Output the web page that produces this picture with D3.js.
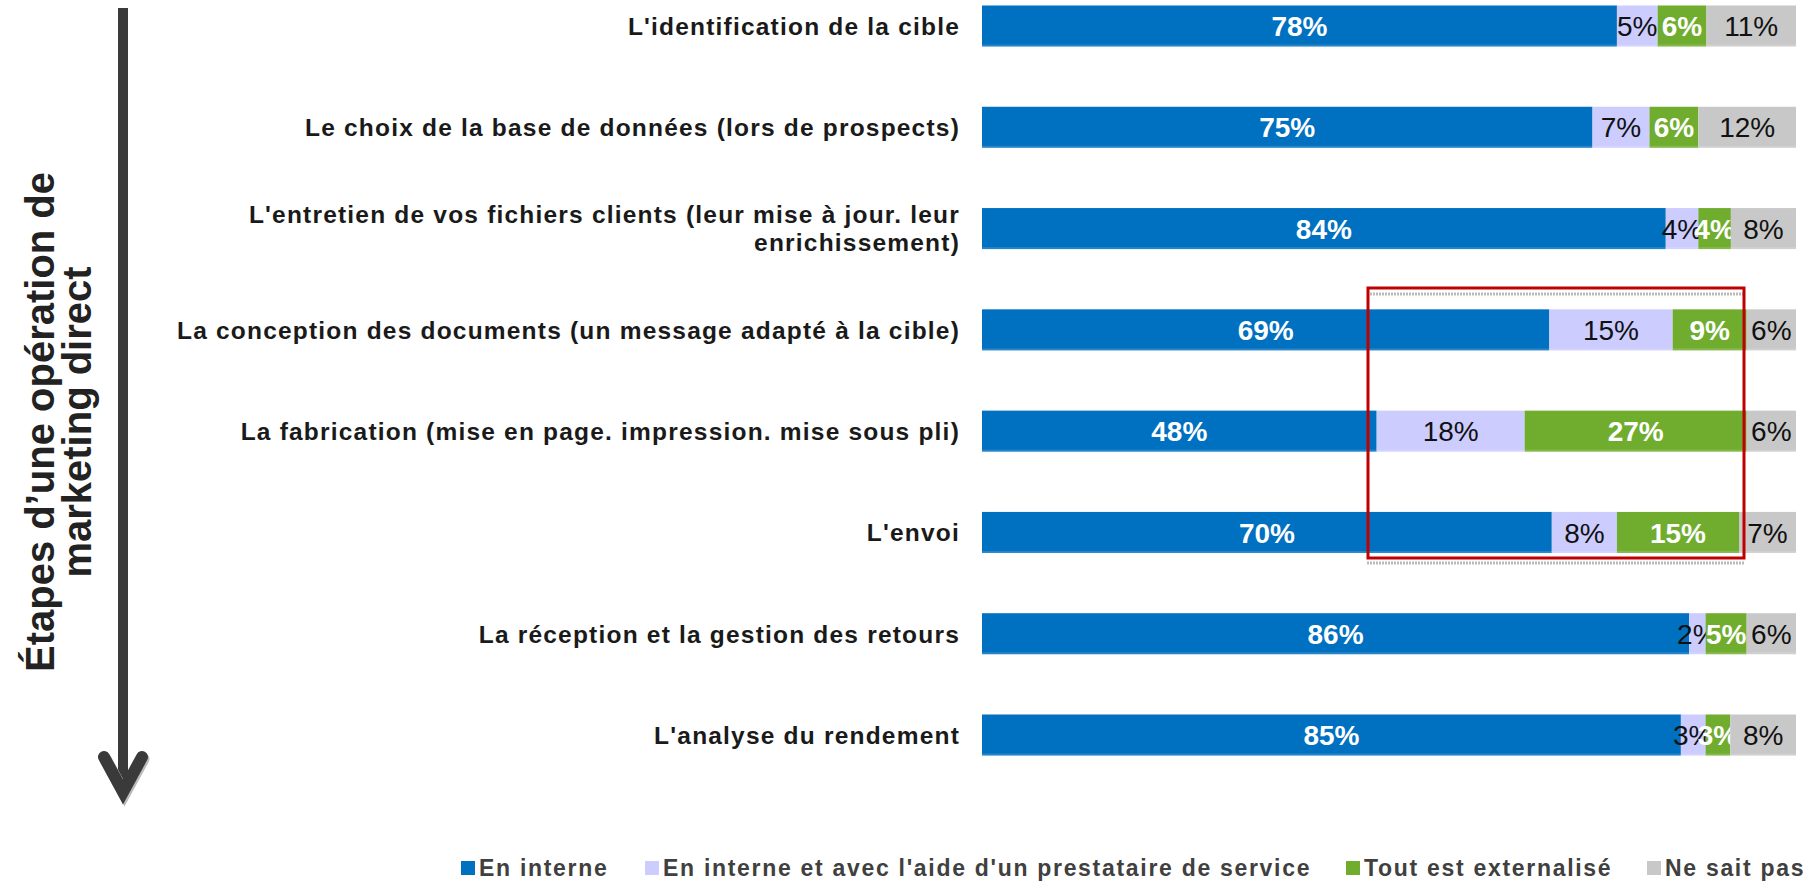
<!DOCTYPE html>
<head>
<meta charset="utf-8">
<script src="https://d3js.org/d3.v7.min.js"></script>
<style>
body { margin: 0; background: #fff; font-family: "Liberation Sans", Arial, sans-serif; }
</style>
</head>
<body>
<svg></svg>
<script>
// etapes (rows, top to bottom)
var categories = [
  "L'identification de la cible",
  "Le choix de la base de données (lors de prospects)",
  "L'entretien de vos fichiers clients (leur mise à jour. leur|enrichissement)",
  "La conception des documents (un message adapté à la cible)",
  "La fabrication (mise en page. impression. mise sous pli)",
  "L'envoi",
  "La réception et la gestion des retours",
  "L'analyse du rendement"
];
var enInterne   = [78, 75, 84, 69, 48, 70, 86, 85];
var avecAide    = [5, 7, 4, 15, 18, 8, 2, 3];
var externalise = [6, 6, 4, 9, 27, 15, 5, 3];
var neSaitPas   = [11, 12, 8, 6, 6, 7, 6, 8];

var seriesNames = ["En interne", "En interne et avec l'aide d'un prestataire de service", "Tout est externalisé", "Ne sait pas"];
var seriesColors = ["#0070C0", "#CCCCFF", "#70AD2F", "#C8C8C8"];
var labelColors = ["#fff", "#111", "#fff", "#111"];
var labelWeights = ["bold", "normal", "bold", "normal"];
var legendX = [461, 645, 1346, 1647];

var width = 1812, height = 881;
var keys = ["a", "b", "c", "d"];

var rows = categories.map(function(c, i) {
  return { cat: c, a: enInterne[i], b: avecAide[i], c: externalise[i], d: neSaitPas[i] };
});

var stack = d3.stack().keys(keys).offset(d3.stackOffsetExpand);
var series = stack(rows);

var x = d3.scaleLinear().domain([0, 1]).range([982, 1796]);
var y = d3.scaleBand()
  .domain(categories)
  .range([-24.65, 785.65])
  .paddingInner(0.595)
  .paddingOuter(0.2975);

var svg = d3.select("svg").attr("width", width).attr("height", height);

// bars
var layer = svg.selectAll("g.layer")
  .data(series)
  .enter().append("g").attr("class", "layer");

layer.each(function(s, si) {
  var g = d3.select(this);
  g.selectAll("rect.seg")
    .data(s)
    .enter().append("rect")
    .attr("class", "seg")
    .attr("x", function(d) { return x(d[0]); })
    .attr("y", function(d) { return y(d.data.cat); })
    .attr("width", function(d) { return x(d[1]) - x(d[0]); })
    .attr("height", y.bandwidth())
    .attr("fill", seriesColors[si]);

  // subtle lighter edge at the bottom of each segment
  g.selectAll("rect.edge")
    .data(s)
    .enter().append("rect")
    .attr("class", "edge")
    .attr("x", function(d) { return x(d[0]); })
    .attr("y", function(d) { return y(d.data.cat) + y.bandwidth() - 2; })
    .attr("width", function(d) { return x(d[1]) - x(d[0]); })
    .attr("height", 2)
    .attr("fill", "#fff")
    .attr("opacity", 0.15);
});

// value labels
layer.each(function(s, si) {
  d3.select(this).selectAll("text")
    .data(s)
    .enter().append("text")
    .attr("x", function(d) { return (x(d[0]) + x(d[1])) / 2; })
    .attr("y", function(d) { return y(d.data.cat) + y.bandwidth() / 2; })
    .attr("dy", "0.36em")
    .attr("text-anchor", "middle")
    .style("font-size", "28px")
    .style("font-weight", labelWeights[si])
    .style("fill", labelColors[si])
    .text(function(d) { return d.data[s.key] + "%"; });
});

// category labels
var catG = svg.append("g");
categories.forEach(function(c) {
  var lines = c.split("|");
  var cy = y(c) + y.bandwidth() / 2;
  var t = catG.append("text")
    .attr("text-anchor", "end")
    .style("font-size", "24.5px")
    .style("font-weight", "bold")
    .style("letter-spacing", "1.2px")
    .style("fill", "#1a1a1a");
  lines.forEach(function(l, li) {
    t.append("tspan")
      .attr("x", 960)
      .attr("y", cy + (li - (lines.length - 1) / 2) * 28)
      .attr("dy", "0.36em")
      .text(l);
  });
});

// highlight box
svg.append("line").attr("x1", 1367).attr("x2", 1745).attr("y1", 294).attr("y2", 294)
  .attr("stroke", "#bbb").attr("stroke-width", 3).attr("stroke-dasharray", "2,1");
svg.append("line").attr("x1", 1367).attr("x2", 1745).attr("y1", 563).attr("y2", 563)
  .attr("stroke", "#bbb").attr("stroke-width", 3).attr("stroke-dasharray", "2,1");
svg.append("rect")
  .attr("x", 1368).attr("y", 288).attr("width", 376).attr("height", 270)
  .attr("fill", "none").attr("stroke", "#C00000").attr("stroke-width", 3);

// vertical arrow
svg.append("line").attr("x1", 123).attr("x2", 123).attr("y1", 8).attr("y2", 790)
  .attr("stroke", "#3a3a3a").attr("stroke-width", 10);
svg.append("path")
  .attr("d", "M104,757 L123,792 L142,757")
  .attr("fill", "none").attr("stroke", "#bbb").attr("stroke-width", 12)
  .attr("stroke-linecap", "round").attr("transform", "translate(1.5,2)");
svg.append("path")
  .attr("d", "M104,757 L123,792 L142,757")
  .attr("fill", "none").attr("stroke", "#3a3a3a").attr("stroke-width", 12)
  .attr("stroke-linecap", "round").attr("stroke-linejoin", "miter");

// axis title
var title = svg.append("text")
  .attr("transform", "translate(0,422) rotate(-90)")
  .attr("text-anchor", "middle")
  .style("font-size", "40px")
  .style("font-weight", "bold")
  .style("fill", "#222");
title.append("tspan").attr("x", 0).attr("y", 40).attr("dy", "0.36em").text("Étapes d’une opération de");
title.append("tspan").attr("x", 0).attr("y", 77).attr("dy", "0.36em").text("marketing direct");

// legend
var leg = svg.selectAll("g.leg")
  .data(seriesNames)
  .enter().append("g").attr("class", "leg")
  .attr("transform", function(d, i) { return "translate(" + legendX[i] + ",861)"; });
leg.append("rect").attr("width", 14).attr("height", 14)
  .attr("fill", function(d, i) { return seriesColors[i]; });
leg.append("text")
  .attr("x", 18).attr("y", 7).attr("dy", "0.36em")
  .style("font-size", "23px")
  .style("font-weight", "bold")
  .style("letter-spacing", "1.7px")
  .style("fill", "#404040")
  .text(function(d) { return d; });
</script>
</body>
